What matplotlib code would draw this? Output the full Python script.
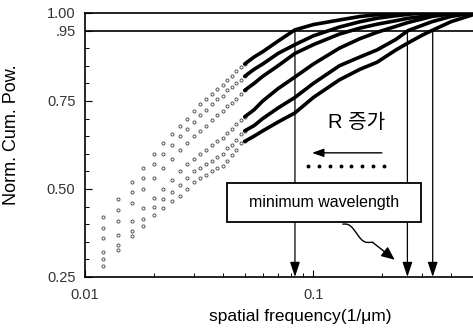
import numpy as np
import matplotlib
matplotlib.use("Agg")
import matplotlib.pyplot as plt
from matplotlib.ticker import FixedLocator, MultipleLocator, NullFormatter
from matplotlib.patches import Rectangle

plt.rcParams['font.family'] = ['Liberation Sans', 'Noto Sans CJK KR', 'DejaVu Sans']

# low-frequency part, drawn as sparse markers
freq_pts = [0.012, 0.014, 0.016, 0.018, 0.020, 0.022, 0.024, 0.026, 0.028, 0.030,
            0.032, 0.034, 0.036, 0.038, 0.040, 0.042, 0.044, 0.046, 0.048, 0.050]
pts_c1 = [.42, .47, .52, .56, .60, .63, .655, .68, .70, .72, .74, .755, .77, .785, .795, .81, .82, .835, .845, .855]
pts_c2 = [.39, .44, .49, .53, .57, .60, .625, .65, .67, .69, .71, .725, .74, .755, .765, .78, .79, .80, .81, .82]
pts_c3 = [.36, .41, .46, .50, .53, .56, .585, .61, .63, .65, .665, .68, .695, .71, .72, .735, .745, .755, .77, .78]
pts_c4 = [.32, .37, .41, .445, .475, .50, .525, .55, .57, .585, .60, .61, .625, .635, .645, .66, .67, .685, .695, .705]
pts_c5 = [.30, .34, .38, .415, .45, .47, .49, .51, .53, .55, .56, .57, .58, .59, .60, .615, .625, .64, .655, .665]
pts_c6 = [.28, .325, .365, .395, .425, .445, .465, .48, .50, .52, .53, .54, .55, .56, .565, .58, .595, .61, .63, .635]

# high-frequency part, drawn as thick lines
freq_line = [0.050, 0.055, 0.06, 0.07, 0.083, 0.1, 0.13, 0.16, 0.19, 0.23, 0.26, 0.30, 0.33, 0.40, 0.50]
line_c1 = [.855, .875, .89, .92, .952, .967, .98, .99, .995, .998, 1.0, 1.0, 1.0, 1.0, 1.0]
line_c2 = [.82, .84, .855, .885, .91, .935, .96, .975, .985, .992, .996, 1.0, 1.0, 1.0, 1.0]
line_c3 = [.78, .80, .82, .85, .885, .91, .94, .957, .968, .978, .985, .99, .995, 1.0, 1.0]
line_c4 = [.705, .725, .75, .785, .818, .855, .90, .927, .945, .962, .973, .983, .99, .997, 1.0]
line_c5 = [.665, .68, .70, .73, .76, .80, .85, .875, .895, .925, .95, .965, .975, .99, 1.0]
line_c6 = [.635, .65, .665, .69, .716, .76, .81, .84, .86, .895, .915, .937, .95, .975, .995]

cutoff_freq = [0.083, 0.258, 0.333]
threshold = 0.95

y_ticks = [0.25, 0.50, 0.75, 0.95, 1.00]
y_ticklabels = ['0.25', '0.50', '0.75', '.95', '1.00']
x_ticks = [0.01, 0.1]
x_ticklabels = ['0.01', '0.1']

fig = plt.figure(figsize=(4.73, 3.32), dpi=100)
ax = fig.add_axes([0.18, 0.166, 0.82, 0.795])

for pts in [pts_c1, pts_c2, pts_c3, pts_c4, pts_c5, pts_c6]:
    ax.plot(freq_pts, pts, linestyle='none', marker='o', ms=2.2, mfc='none',
            mec='#555555', mew=0.7)
for vals in [line_c1, line_c2, line_c3, line_c4, line_c5, line_c6]:
    ax.plot(freq_line, vals, color='black', lw=2.6, solid_capstyle='round')

ax.axhline(threshold, color='black', lw=1.2)

# vertical arrows at the cutoff frequencies
for f in cutoff_freq:
    ax.annotate('', xy=(f, 0.25), xytext=(f, threshold),
                arrowprops=dict(arrowstyle='-|>,head_length=0.9,head_width=0.3',
                                color='black', lw=0.9, shrinkA=0, shrinkB=0),
                zorder=2)

ax.set_xscale('log')
ax.set_xlim(0.01, 0.5)
ax.set_ylim(0.25, 1.0)

ax.xaxis.set_major_locator(FixedLocator(x_ticks))
ax.set_xticklabels(x_ticklabels)
ax.xaxis.set_minor_formatter(NullFormatter())
ax.yaxis.set_major_locator(FixedLocator(y_ticks))
ax.set_yticklabels(y_ticklabels)
ax.yaxis.set_minor_locator(MultipleLocator(0.05))

ax.tick_params(which='both', direction='in', colors='black', labelsize=10.5)
ax.tick_params(which='major', length=5, width=0.8)
ax.tick_params(which='minor', length=3, width=0.7)
ax.tick_params(axis='x', pad=8)
ax.tick_params(axis='y', pad=7)
for lbl in ax.get_xticklabels() + ax.get_yticklabels():
    lbl.set_color('#333333')

for s in ['left', 'bottom', 'top']:
    ax.spines[s].set_linewidth(1.2)
ax.spines['right'].set_visible(False)

ax.set_xlabel('spatial frequency(1/\u03bcm)', fontsize=12.5)
ax.xaxis.set_label_coords(0.555, -0.12)
ax.set_ylabel('Norm. Cum. Pow.', fontsize=13)
ax.yaxis.set_label_coords(-0.168, 0.54)

# annotations
ax.text(0.70, 0.585, 'R 증가', transform=ax.transAxes, fontsize=14.5,
        ha='center', va='center', family=['Liberation Sans', 'Noto Sans CJK KR'])
ax.annotate('', xy=(0.585, 0.47), xytext=(0.765, 0.47), xycoords='axes fraction',
            arrowprops=dict(arrowstyle='-|>,head_length=0.7,head_width=0.25',
                            color='black', lw=1.0, shrinkA=0, shrinkB=0))
ax.plot(np.linspace(0.575, 0.77, 8), [0.42] * 8, transform=ax.transAxes,
        linestyle='none', marker='o', ms=1.8, color='black')

ax.add_patch(Rectangle((0.367, 0.208), 0.5, 0.148, transform=ax.transAxes,
                       facecolor='white', edgecolor='black', lw=1.3, zorder=5))
ax.text(0.617, 0.282, 'minimum wavelength', transform=ax.transAxes, fontsize=11.5,
        ha='center', va='center', zorder=6)

t = np.linspace(0, 1, 40)
wx = 0.665 + 0.09 * t
wy = 0.20 - 0.09 * t + 0.012 * np.sin(t * 2 * np.pi * 1.3)
ax.plot(wx[:-6], wy[:-6], transform=ax.transAxes, color='black', lw=1.0, zorder=6)
ax.annotate('', xy=(0.798, 0.065), xytext=(wx[-7], wy[-7]), xycoords='axes fraction',
            arrowprops=dict(arrowstyle='-|>,head_length=0.8,head_width=0.35',
                            color='black', lw=1.0, shrinkA=0, shrinkB=0))

fig.savefig('out.png', dpi=100)
